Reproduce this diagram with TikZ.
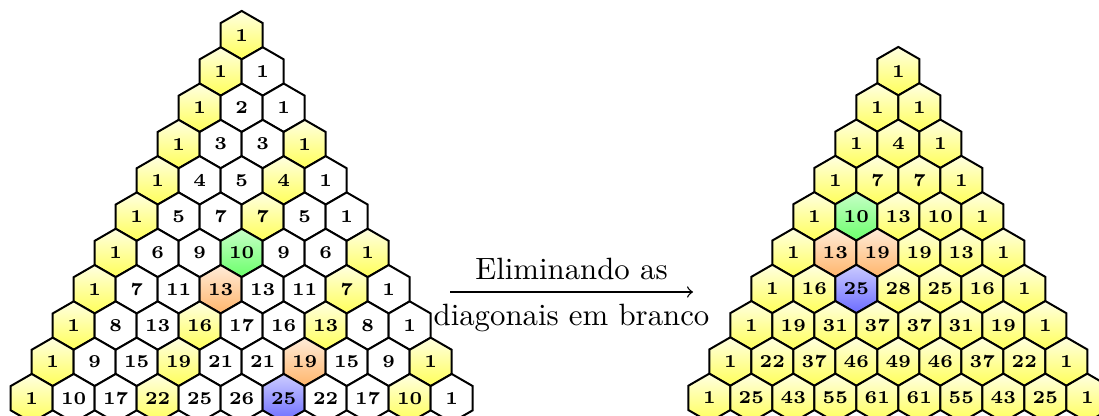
\documentclass[tikz,border=0pt]{standalone}
\usetikzlibrary{shapes.geometric}
\begin{document}
\begin{tikzpicture}[x=0.3247pt,y=-0.3247pt,
  hex/.style={regular polygon, regular polygon sides=6, shape border rotate=30,
    minimum size=15.75pt, inner sep=0pt, outer sep=0pt, draw=black,
    line width=0.65pt, fill=white, font=\fontsize{5.9}{7}\selectfont\bfseries},
  yhex/.style={top color=yellow!12, bottom color=yellow!65},
  ghex/.style={top color=green!22, bottom color=green!58},
  ohex/.style={top color=orange!15, bottom color=orange!58},
  bhex/.style={top color=blue!20, bottom color=blue!58},
  lmod0/.style={yhex},
  lcol6-3/.style={ghex}, lcol7-3/.style={ohex}, lcol9-6/.style={ohex}, lcol10-6/.style={bhex},
  rcol4-1/.style={ghex}, rcol5-1/.style={ohex}, rcol5-2/.style={ohex}, rcol6-2/.style={bhex},
  lbl/.style={font=\fontsize{10}{12}\selectfont, inner sep=3.6pt}]
\useasboundingbox (0,0) rectangle (1099,416);
% left triangle
\foreach \rowlist [count=\r from 0] in {{1},{1,1},{1,2,1},{1,3,3,1},{1,4,5,4,1},{1,5,7,7,5,1},
  {1,6,9,10,9,6,1},{1,7,11,13,13,11,7,1},{1,8,13,16,17,16,13,8,1},
  {1,9,15,19,21,21,19,15,9,1},{1,10,17,22,25,26,25,22,17,10,1}}{
  \foreach \v [count=\k from 0] in \rowlist {
    \pgfmathtruncatemacro\m{mod(\k,3)}
    \node[hex, lmod\m/.try, lcol\r-\k/.try] (L-\r-\k) at ({241.7+42*(\k-\r/2)},{35.2+36.3*\r}) {\v};
  }
}
% right triangle
\foreach \rowlist [count=\r from 0] in {{1},{1,1},{1,4,1},{1,7,7,1},{1,10,13,10,1},{1,13,19,19,13,1},
  {1,16,25,28,25,16,1},{1,19,31,37,37,31,19,1},{1,22,37,46,49,46,37,22,1},
  {1,25,43,55,61,61,55,43,25,1}}{
  \foreach \v [count=\k from 0] in \rowlist {
    \node[hex, yhex, rcol\r-\k/.try] (R-\r-\k) at ({898.3+42*(\k-\r/2)},{71.2+36.3*\r}) {\v};
  }
}
% arrow
\coordinate (arrS) at (450,292);
\coordinate (arrE) at (693,292);
\draw[->, line width=0.45pt] (arrS) -- (arrE)
  node[midway, above, lbl] (t1) {Eliminando as}
  node[midway, below, lbl] (t2) {diagonais em branco};
\end{tikzpicture}
\end{document}
